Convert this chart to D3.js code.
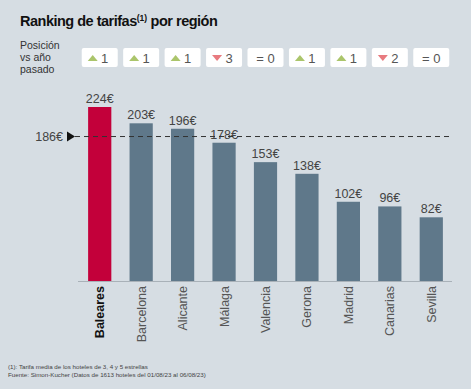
<!DOCTYPE html>
<html>
<head>
<meta charset="utf-8">
<script src="https://cdn.jsdelivr.net/npm/d3@7"></script>
<style>
	body { margin: 0; background: #d6dde3; }
	svg { display: block; font-family: "Liberation Sans", Arial, sans-serif; }
</style>
</head>
<body>
<div class="plot"></div>
<script>
// Chart data
const regions = ['Baleares', 'Barcelona', 'Alicante', 'Málaga', 'Valencia', 'Gerona', 'Madrid', 'Canarias', 'Sevilla'];
const rates = [224, 203, 196, 178, 153, 138, 102, 96, 82];
const rankChange = [1, 1, 1, -3, 0, 1, 1, -2, 0];
const average = 186;
const footnotes = [
	'(1): Tarifa media de los hoteles de 3, 4 y 5 estrellas',
	'Fuente: Simon-Kucher (Datos de 1613 hoteles del 01/08/23 al 06/08/23)'
];

const w = 471, h = 389;
const svg = d3.select('.plot').append('svg')
	.attr('width', w)
	.attr('height', h);

svg.append('rect').attr('width', w).attr('height', h).attr('fill', '#d6dde3');

// Title
const title = svg.append('text')
	.attr('x', 20).attr('y', 26)
	.attr('font-size', 14.5).attr('font-weight', 'bold').attr('fill', '#111')
	.attr('letter-spacing', -0.5);
title.append('tspan').text('Ranking de tarifas');
title.append('tspan').text('(1)').attr('font-size', 8.5).attr('dy', -5).attr('letter-spacing', 0);
title.append('tspan').text(' por región').attr('dy', 5);

// Scales
const x = d3.scaleBand()
	.domain(regions)
	.range([79, 452])
	.paddingInner(0.44)
	.paddingOuter(0.22);
const y = d3.scaleLinear()
	.domain([0, 224])
	.range([281, 107]);

// Position-change row
svg.append('text')
	.attr('x', 20).attr('y', 49)
	.attr('font-size', 10.5).attr('fill', '#333')
	.selectAll('tspan')
	.data(['Posición', 'vs año', 'pasado'])
	.join('tspan')
	.attr('x', 20)
	.attr('dy', (d, i) => i ? 12 : 0)
	.text(d => d);

const badges = svg.selectAll('.badge')
	.data(regions.map((r, i) => ({ region: r, change: rankChange[i] })))
	.join('g')
	.attr('class', 'badge')
	.attr('transform', d => `translate(${x(d.region) + x.bandwidth() / 2}, 58)`);
badges.append('rect')
	.attr('x', -18).attr('y', -10)
	.attr('width', 36).attr('height', 19)
	.attr('rx', 2)
	.attr('fill', '#fff');
badges.filter(d => d.change !== 0).append('path')
	.attr('d', d => d.change > 0 ? 'M-12,3 L-2,3 L-7,-3 Z' : 'M-12,-3 L-2,-3 L-7,3 Z')
	.attr('fill', d => d.change > 0 ? '#abc56b' : '#e87a7f');
badges.append('text')
	.attr('x', d => d.change === 0 ? 0 : 5)
	.attr('y', 4.5)
	.attr('text-anchor', 'middle')
	.attr('font-size', 13)
	.attr('fill', '#555')
	.text(d => d.change === 0 ? '= 0' : Math.abs(d.change));

// Bars
svg.selectAll('.bar')
	.data(regions)
	.join('rect')
	.attr('class', 'bar')
	.attr('x', d => x(d))
	.attr('y', (d, i) => y(rates[i]))
	.attr('width', x.bandwidth())
	.attr('height', (d, i) => y(0) - y(rates[i]))
	.attr('fill', (d, i) => i === 0 ? '#c3003a' : '#5f788a');

svg.selectAll('.value')
	.data(regions)
	.join('text')
	.attr('class', 'value')
	.attr('x', d => x(d) + x.bandwidth() / 2)
	.attr('y', (d, i) => y(rates[i]) - 4)
	.attr('text-anchor', 'middle')
	.attr('font-size', 12.5)
	.attr('fill', '#444')
	.text((d, i) => rates[i] + '€');

// Axis baseline
svg.append('line')
	.attr('x1', 78).attr('x2', 452)
	.attr('y1', y(0) + 0.5).attr('y2', y(0) + 0.5)
	.attr('stroke', '#a9b1b8').attr('stroke-width', 1);

// Category labels
svg.selectAll('.cat')
	.data(regions)
	.join('text')
	.attr('class', 'cat')
	.attr('transform', d => `translate(${x(d) + x.bandwidth() / 2 + 4.5}, 286) rotate(-90)`)
	.attr('text-anchor', 'end')
	.attr('font-size', 12.5)
	.attr('font-weight', (d, i) => i === 0 ? 'bold' : 'normal')
	.attr('fill', (d, i) => i === 0 ? '#111' : '#555')
	.text(d => d);

// Average line
const avgY = y(average);
svg.append('line')
	.attr('x1', 75).attr('x2', 452)
	.attr('y1', avgY).attr('y2', avgY)
	.attr('stroke', '#333').attr('stroke-width', 1)
	.attr('stroke-dasharray', '5,4');
svg.append('path')
	.attr('d', `M67,${avgY - 5} L75,${avgY} L67,${avgY + 5} Z`)
	.attr('fill', '#111');
svg.append('text')
	.attr('x', 63).attr('y', avgY + 4.5)
	.attr('text-anchor', 'end')
	.attr('font-size', 12.5)
	.attr('fill', '#444')
	.text(average + '€');

// Footnotes
svg.selectAll('.foot')
	.data(footnotes)
	.join('text')
	.attr('class', 'foot')
	.attr('x', 8)
	.attr('y', (d, i) => 369 + i * 8)
	.attr('font-size', 6.2)
	.attr('fill', '#444')
	.text(d => d);
</script>
</body>
</html>
